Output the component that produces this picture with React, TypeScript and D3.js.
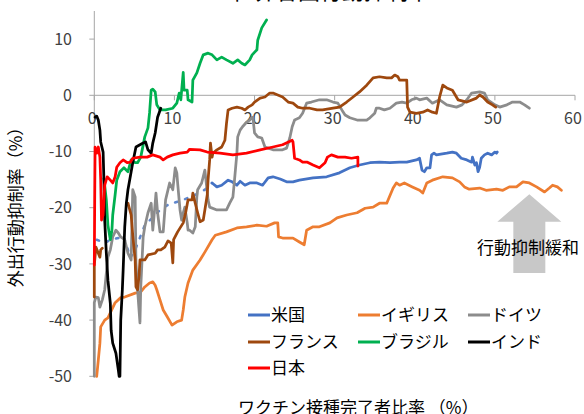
import React from "react";
import * as d3 from "d3";

// ---- Data (x: vaccination completion %, y: outing restraint %) ----
const usDotted: [number, number][] = [
  [0.3,-25.7],[1.3,-26.3],[2.0,-25.7],[3.0,-25.4],[3.6,-25.0],[4.0,-26.6],[4.5,-28.9],[5.1,-27.5],
  [6.3,-23.1],[7.6,-21.3],[8.2,-20.4],[9.2,-19.5],[9.8,-19.2],[11.1,-18.6],[12.6,-17.7],[13.8,-16.8],[14.7,-15.6]
];
const us: [number, number][] = [
  [14.7,-15.6],[15.3,-16.3],[15.9,-16.0],[16.7,-15.1],[17.2,-15.4],[17.8,-16.0],[18.2,-15.3],[18.8,-16.0],
  [19.4,-15.6],[20.3,-15.6],[21.0,-16.0],[21.7,-14.7],[22.3,-14.5],[23.2,-14.9],[24.0,-15.4],[24.8,-15.4],
  [25.6,-15.1],[27.3,-14.7],[29.0,-14.5],[30.6,-13.8],[31.9,-12.9],[33.1,-12.4],[34.4,-12.0],[35.6,-11.9],
  [36.9,-12.0],[38.1,-11.9],[39.0,-11.9],[40.2,-11.5],[40.6,-11.2],[40.9,-13.3],[41.2,-13.6],[41.5,-12.9],
  [41.9,-12.9],[42.1,-10.6],[42.4,-10.3],[42.7,-10.6],[44.0,-10.3],[44.7,-10.1],[45.2,-10.3],[45.8,-11.2],
  [46.5,-11.5],[47.1,-11.9],[47.2,-11.0],[47.5,-12.4],[47.7,-12.0],[47.9,-13.6],[48.1,-12.8],[48.3,-11.2],
  [48.7,-10.6],[49.1,-10.3],[49.6,-10.6],[50.0,-10.1],[50.2,-10.3],[50.3,-10.1]
];
const uk: [number, number][] = [
  [0.3,-50.0],[0.5,-47.1],[0.7,-44.1],[0.8,-41.2],[1.3,-40.0],[1.7,-39.6],[2.6,-36.9],[3.3,-36.0],[3.8,-35.9],
  [5.1,-35.2],[5.8,-35.0],[6.3,-34.1],[6.9,-33.4],[7.3,-33.2],[7.6,-33.8],[7.8,-34.6],[8.2,-36.4],[8.6,-38.2],
  [9.1,-39.4],[9.7,-40.9],[10.3,-40.3],[10.9,-40.0],[11.1,-38.2],[11.3,-35.9],[11.7,-33.4],[12.3,-31.1],
  [13.2,-29.3],[13.8,-27.9],[14.7,-25.7],[15.1,-24.9],[16.5,-24.3],[17.8,-23.6],[19.0,-23.4],[20.3,-23.1],
  [21.5,-23.3],[22.5,-22.7],[22.9,-22.7],[23.0,-25.2],[23.5,-25.4],[24.8,-25.4],[25.6,-26.1],[26.2,-26.6],
  [26.5,-24.0],[27.3,-23.4],[28.1,-23.4],[29.4,-22.7],[30.3,-21.8],[31.5,-21.3],[32.8,-20.9],[33.8,-20.1],
  [34.8,-19.9],[35.6,-19.2],[36.5,-19.2],[37.3,-16.5],[37.7,-15.6],[38.1,-16.0],[38.7,-15.6],[39.7,-16.3],
  [40.6,-16.9],[41.0,-17.4],[41.5,-15.6],[42.2,-15.1],[43.5,-14.5],[44.7,-14.7],[45.6,-15.4],[46.2,-16.3],
  [46.8,-16.7],[48.1,-16.5],[48.9,-16.9],[50.2,-16.7],[51.0,-16.9],[51.8,-16.3],[52.7,-16.3],[53.5,-15.4],
  [54.3,-15.6],[55.2,-16.3],[56.2,-17.2],[56.8,-16.5],[57.2,-16.0],[57.8,-16.3],[58.3,-16.9]
];
const germany: [number, number][] = [
  [0.0,-50.0],[0.0,-36.9],[0.2,-35.9],[0.5,-36.0],[0.7,-37.7],[1.0,-36.4],[1.3,-34.6],[1.7,-28.8],[2.0,-27.5],
  [2.3,-25.2],[2.7,-24.0],[3.0,-24.5],[3.3,-25.2],[3.8,-25.7],[4.2,-28.1],[4.6,-29.3],[4.8,-16.8],[5.1,-18.1],
  [5.2,-29.8],[5.4,-34.6],[5.7,-40.5],[5.8,-34.1],[6.1,-25.2],[6.3,-23.4],[6.7,-20.9],[7.1,-19.2],[7.3,-24.0],
  [7.6,-19.2],[7.7,-17.4],[7.9,-20.9],[8.2,-24.3],[8.6,-24.3],[8.9,-18.6],[9.4,-15.6],[9.8,-16.8],[10.1,-12.9],
  [10.3,-13.8],[10.4,-15.6],[10.7,-20.4],[10.9,-22.2],[11.1,-20.9],[11.3,-19.9],[11.6,-22.7],[11.7,-24.0],
  [11.9,-24.0],[12.3,-24.5],[12.6,-23.4],[12.8,-18.1],[12.9,-16.8],[13.4,-15.6],[13.8,-13.3],[14.2,-18.6],
  [14.4,-19.9],[15.3,-20.4],[16.5,-20.4],[16.9,-19.2],[17.3,-18.1],[17.5,-15.1],[17.8,-10.3],[17.9,-7.4],
  [18.2,-6.2],[18.5,-5.6],[19.0,-4.8],[19.4,-4.4],[19.7,-3.9],[19.8,-4.0],[20.0,-6.7],[20.4,-7.4],[20.9,-7.6],
  [21.0,-8.0],[21.3,-9.2],[21.7,-9.4],[22.3,-9.7],[22.9,-9.7],[23.5,-9.7],[24.0,-9.4],[24.4,-7.6],[24.7,-5.6],
  [25.0,-4.4],[25.6,-4.0],[26.0,-3.2],[26.5,-1.4],[27.1,-1.2],[28.1,-0.8],[29.0,-0.8],[29.8,-1.2],[30.4,-1.4],
  [30.9,-2.6],[31.3,-3.5],[31.9,-4.0],[32.8,-4.4],[34.0,-4.4],[34.4,-4.0],[35.0,-3.2],[35.2,-2.3],[35.6,-2.3],
  [36.2,-2.6],[36.9,-2.3],[37.7,-1.4],[38.4,-1.2],[39.0,-1.4],[39.6,-0.8],[40.2,-0.5],[40.6,-0.8],[41.5,-0.5],
  [42.2,-1.4],[43.1,-0.8],[44.0,-1.7],[45.2,-2.1],[45.9,-1.7],[46.5,-0.8],[47.1,0.4],[48.1,0.6],[48.7,0.4],
  [49.1,-0.8],[50.0,-1.7],[50.6,-2.1],[51.5,-1.7],[52.2,-1.2],[53.1,-1.2],[53.7,-1.7],[54.3,-2.3]
];
const france: ([number, number] | null)[] = [
  [0.0,-35.9],[0.0,-30.2],[0.2,-27.0],[0.5,-28.1],[0.7,-28.8],[0.8,-27.5],[1.0,-27.2],null,
  [4.1,-19.5],[4.2,-19.2],[4.6,-21.3],[4.8,-24.9],[5.1,-29.3],[5.2,-34.1],[5.4,-34.6],[5.6,-31.9],[5.7,-29.3],
  [6.3,-29.3],[6.7,-28.4],[7.6,-28.1],[7.9,-27.5],[8.3,-27.5],[8.8,-27.0],[9.2,-25.9],[9.6,-26.3],[9.8,-29.8],
  [9.9,-25.7],[10.4,-24.3],[11.1,-22.7],[11.4,-20.9],[11.7,-18.6],[12.2,-18.6],[12.3,-17.4],[12.6,-19.2],
  [12.9,-20.9],[13.2,-22.5],[13.6,-22.2],[13.8,-20.4],[14.1,-17.7],[14.2,-15.1],[14.4,-11.5],[14.5,-8.5],
  [14.7,-11.0],[14.8,-10.3],[15.3,-9.7],[15.9,-9.2],[16.3,-8.0],[16.5,-5.0],[16.7,-2.6],[17.2,-2.3],[17.8,-2.1],
  [18.4,-2.3],[18.8,-2.6],[19.2,-2.1],[19.7,-1.7],[20.0,-1.2],[20.7,-0.5],[21.3,-0.3],[21.9,0.4],[22.3,0.4],
  [22.9,0.05],[23.5,-0.3],[24.2,-1.2],[24.8,-1.4],[25.4,-2.1],[26.0,-2.3],[26.9,-2.3],[27.8,-2.6],[28.5,-2.6],
  [29.8,-2.3],[30.6,-2.1],[31.5,-1.2],[32.3,-0.3],[33.1,0.6],[34.0,1.8],[34.8,3.1],[35.6,3.3],[36.5,3.1],
  [37.1,3.1],[37.5,3.6],[37.9,3.3],[38.1,2.7],[39.0,2.7],[39.1,-2.1],[39.4,-3.0],[40.2,-3.2],[41.0,-3.0],
  [41.6,-2.6],[42.2,-3.0],[42.7,-3.2],[43.1,-0.3],[43.5,1.8],[44.0,1.3],[44.7,0.9],[45.4,-0.8],[46.5,-1.2],
  [47.7,-0.5],[48.1,0.05],[48.5,-0.3],[49.1,-1.2],[49.7,-1.7],[50.1,-2.1]
];
const brazil: [number, number][] = [
  [1.2,-14.8],[1.5,-18.6],[1.7,-23.1],[2.0,-25.7],[2.2,-24.0],[2.3,-21.3],[2.6,-17.7],[2.8,-15.1],[3.2,-13.6],
  [3.7,-12.9],[4.2,-13.6],[4.6,-11.5],[5.1,-12.0],[5.4,-12.0],[5.8,-11.0],[6.3,-7.4],[6.7,-5.8],[6.9,-3.1],
  [7.1,0.9],[7.3,1.1],[7.6,0.6],[7.8,-1.7],[8.2,-2.6],[8.9,-2.6],[9.8,-2.3],[10.3,-1.4],[10.6,0.4],[10.8,-0.8],
  [11.1,4.1],[11.2,0.9],[11.6,0.9],[11.7,-0.8],[12.2,-1.2],[12.3,2.7],[12.8,4.0],[13.2,5.7],[13.6,7.2],
  [14.2,7.5],[14.7,7.2],[15.3,6.3],[15.9,6.8],[16.5,6.3],[17.3,5.7],[17.9,6.3],[18.4,5.7],[18.8,5.4],
  [19.4,6.3],[19.7,7.2],[20.3,8.1],[20.4,9.8],[20.9,12.0],[21.5,13.4]
];
const india: [number, number][] = [
  [0.1,-3.9],[0.3,-3.7],[0.5,-4.4],[0.7,-6.2],[0.8,-8.3],[1.1,-10.1],[1.2,-15.1],[1.3,-22.2],[1.5,-28.1],
  [1.7,-32.9],[2.0,-37.0],[2.1,-41.8],[2.3,-44.1],[2.7,-45.9],[3.0,-48.9],[3.1,-50.0],[3.2,-50.0],[3.3,-40.0],
  [3.5,-34.6],[3.6,-31.1],[3.8,-23.4],[4.0,-19.2],[4.2,-16.8],[4.6,-13.6],[4.8,-12.0],[5.2,-9.2],[5.7,-8.8],
  [6.1,-8.5],[6.4,-8.3],[6.7,-9.7],[7.1,-10.3],[7.3,-8.5],[7.6,-6.7],[7.9,-3.9],[8.3,-2.3]
];
const japan: [number, number][] = [
  [0.0,-30.2],[0.05,-18.6],[0.1,-9.2],[0.3,-10.3],[0.5,-9.2],[0.7,-11.0],[0.8,-15.1],[0.9,-22.2],[1.1,-21.3],
  [1.2,-18.6],[1.3,-16.0],[1.6,-14.5],[2.0,-15.1],[2.3,-15.6],[2.6,-14.5],[2.8,-12.8],[3.2,-12.0],[3.6,-11.5],
  [4.1,-12.0],[4.5,-11.9],[4.8,-11.2],[5.7,-11.0],[6.6,-11.0],[7.3,-10.6],[8.2,-11.0],[8.6,-11.5],[9.1,-11.0],
  [9.8,-10.6],[10.7,-10.3],[11.6,-10.1],[11.9,-9.6],[13.2,-9.7],[14.1,-10.1],[15.7,-10.3],[17.3,-10.6],
  [19.0,-10.3],[20.7,-9.7],[22.3,-9.2],[23.5,-8.8],[24.7,-8.0],[24.8,-8.3],[25.0,-11.2],[25.6,-11.5],
  [26.0,-11.9],[26.6,-11.9],[27.3,-12.4],[28.1,-12.9],[28.8,-12.0],[29.1,-11.0],[29.6,-10.6],[30.4,-11.0],
  [31.3,-11.0],[32.1,-11.2],[32.9,-11.0],[32.9,-12.6]
];

const seriesNames = ["米国", "イギリス", "ドイツ", "フランス", "ブラジル", "インド", "日本"];
const seriesColors = ["#4472C4", "#ED7D31", "#8C8C8C", "#9E480E", "#00B050", "#000000", "#FF0000"];
const xTicks = [0, 10, 20, 30, 40, 50, 60];
const yTicks = [10, 0, -10, -20, -30, -40, -50];

const titleText = "世界各国行動抑制率";
const xTitle = "ワクチン接種完了者比率 （%）";
const yTitle = "外出行動抑制率（%）";
const arrowText = "行動抑制緩和";

const FONT = "'Noto Sans CJK JP', 'Noto Sans', sans-serif";

export default function App() {
  const W = 584, H = 414;
  const x = d3.scaleLinear().domain([0, 60]).range([94.3, 575]);
  const y = d3.scaleLinear().domain([-50, 15]).range([376.3, 11]);

  const line = d3
    .line<[number, number] | null>()
    .defined((d) => d !== null)
    .x((d) => x((d as [number, number])[0]))
    .y((d) => y((d as [number, number])[1]));

  const allSeries = [us, uk, germany, france, brazil, india, japan];
  const axisColor = "#A6A6A6";
  const textColor = "#404040";

  const ax = x(54.3);
  const tipY = y(-17.6);
  const headY = y(-22.5);
  const botY = y(-31.6);

  const legendCols = [248, 358, 468];
  const legendRows = [315, 342, 368];

  return (
    <svg
      width={W}
      height={H}
      style={{ position: "absolute", left: 0, top: 0, background: "#fff" }}
      fontFamily={FONT}
    >
      <rect width={W} height={H} fill="#fff" />
      {/* title (mostly cut off at the top edge) */}
      <text x={331} y={-1} textAnchor="middle" fontSize={22} fill="#000">
        {titleText}
      </text>

      {/* arrow */}
      <polygon
        points={[
          [ax, tipY],
          [ax + 32, headY],
          [ax + 16, headY],
          [ax + 16, botY],
          [ax - 16, botY],
          [ax - 16, headY],
          [ax - 32, headY],
        ]
          .map((p) => p.join(","))
          .join(" ")}
        fill="#C8C8C8"
      />
      <text x={528} y={254} textAnchor="middle" fontSize={17} fill="#000">
        {arrowText}
      </text>

      {/* axes */}
      <line x1={x(0)} x2={x(0)} y1={y(15)} y2={y(-50)} stroke={axisColor} strokeWidth={1} />
      {yTicks.map((t) => (
        <g key={"y" + t}>
          <line x1={x(0) - 5} x2={x(0)} y1={y(t)} y2={y(t)} stroke={axisColor} />
          <text x={72} y={y(t)} dy="0.35em" textAnchor="end" fontSize={16} fill={textColor}>
            {t}
          </text>
        </g>
      ))}
      <line x1={x(0)} x2={x(60)} y1={y(0)} y2={y(0)} stroke={axisColor} strokeWidth={1} />
      {xTicks.map((t) => (
        <g key={"x" + t}>
          <line x1={x(t)} x2={x(t)} y1={y(0)} y2={y(0) + 5} stroke={axisColor} />
          <text x={x(t) - 2} y={y(0) + 23} dy="0.35em" textAnchor="middle" fontSize={16} fill={textColor}>
            {t}
          </text>
        </g>
      ))}

      {/* series */}
      <path
        d={line(usDotted) || ""}
        fill="none"
        stroke={seriesColors[0]}
        strokeWidth={2.5}
        strokeDasharray="2.5 8"
        strokeLinecap="round"
        opacity={0.85}
      />
      {allSeries.map((s, i) => (
        <path
          key={seriesNames[i]}
          d={line(s as ([number, number] | null)[]) || ""}
          fill="none"
          stroke={seriesColors[i]}
          strokeWidth={2.75}
          strokeLinejoin="round"
          strokeLinecap="round"
        />
      ))}

      {/* axis titles */}
      <text
        transform={`translate(22,203) rotate(-90)`}
        textAnchor="middle"
        fontSize={17}
        fill="#000"
      >
        {yTitle}
      </text>
      <text x={238} y={414} fontSize={17} fill="#000">
        {xTitle}
      </text>

      {/* legend */}
      {seriesNames.map((n, i) => {
        const cx = legendCols[i % 3];
        const cy = legendRows[Math.floor(i / 3)];
        return (
          <g key={"lg" + n}>
            <line x1={cx} x2={cx + 22} y1={cy} y2={cy} stroke={seriesColors[i]} strokeWidth={3} />
            <text x={cx + 23} y={cy} dy="0.36em" fontSize={17} fill="#000">
              {n}
            </text>
          </g>
        );
      })}
    </svg>
  );
}
